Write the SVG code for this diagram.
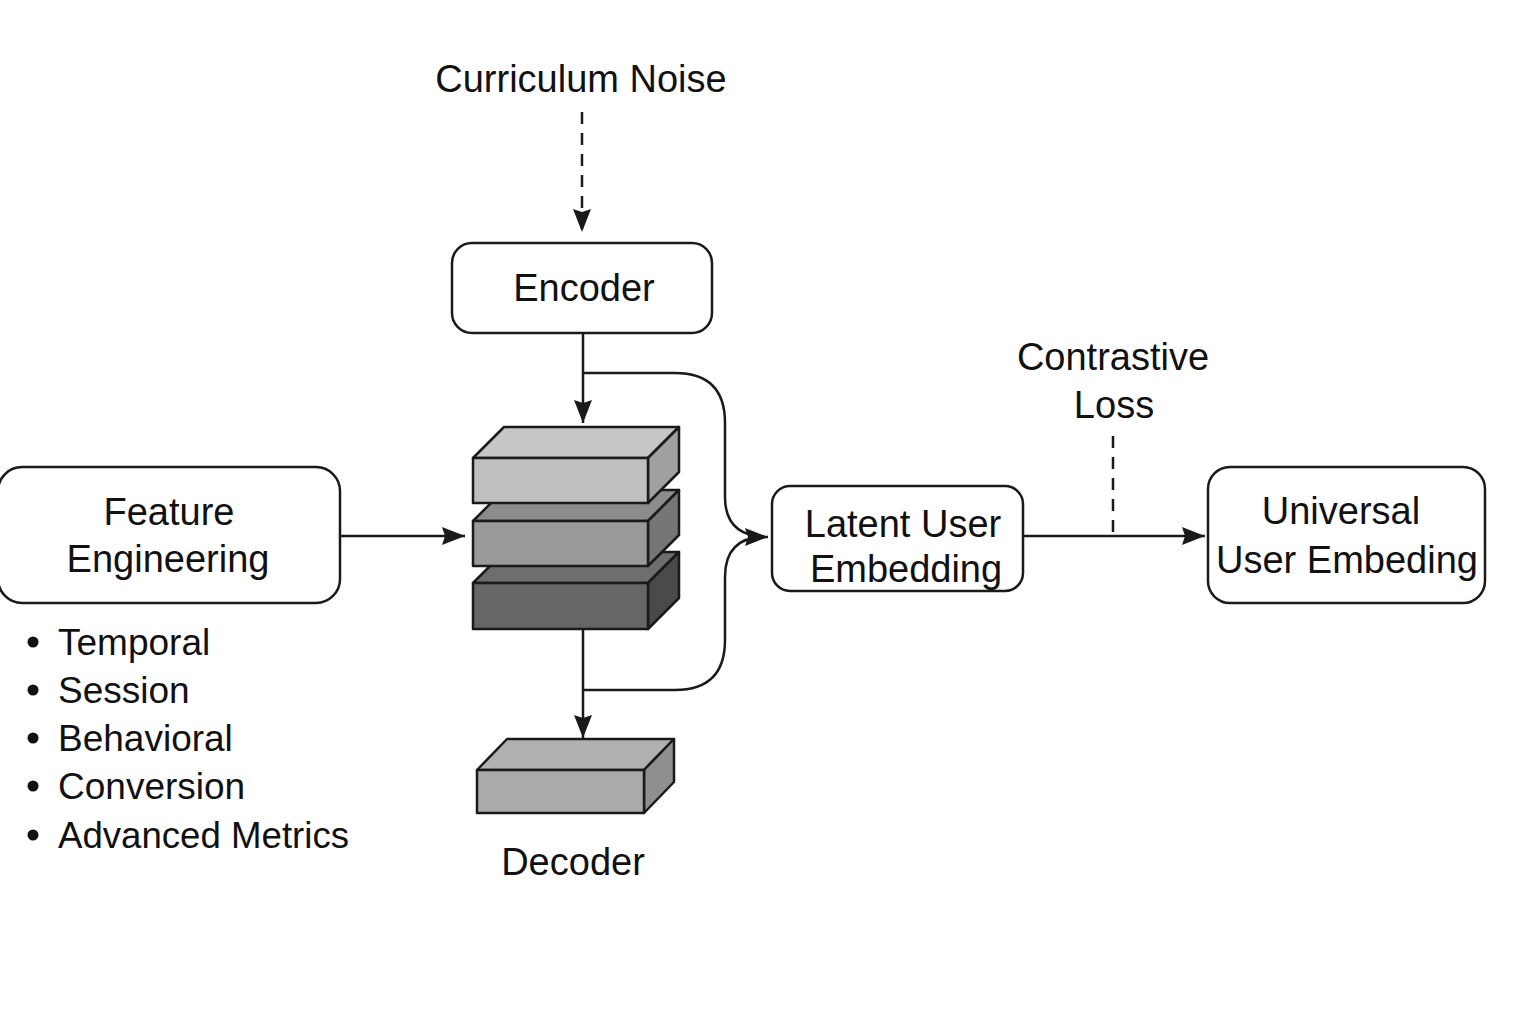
<svg xmlns="http://www.w3.org/2000/svg" width="1536" height="1024" viewBox="0 0 1536 1024">
<style>
  .box{fill:#fff;stroke:#1a1a1a;stroke-width:2.5}
  .t{font-family:"Liberation Sans",Arial,sans-serif;font-size:38px;fill:#111}
  .c{text-anchor:middle}
  .ln{fill:none;stroke:#1a1a1a;stroke-width:2.5}
  .dash{stroke-dasharray:12 9}
  .blk{stroke:#1a1a1a;stroke-width:2.5;stroke-linejoin:round}
</style>
<defs>
  <marker id="arr" markerUnits="userSpaceOnUse" markerWidth="26" markerHeight="20" refX="23" refY="9" orient="auto">
    <path d="M0,0 L23,9 L0,18 L3,9 z" fill="#1a1a1a"/>
  </marker>
</defs>
<rect width="1536" height="1024" fill="#fff"/>

<g id="connectors">
  <path class="ln dash" d="M582,112 V232" marker-end="url(#arr)"/>
  <path class="ln" d="M583,333 V423" marker-end="url(#arr)"/>
  <path class="ln" d="M340,536 H465" marker-end="url(#arr)"/>
  <path class="ln" d="M583,629 V738" marker-end="url(#arr)"/>
  <path class="ln" d="M583,373 H675 Q725,373 725,423 V497 Q725,537 768,537" marker-end="url(#arr)"/>
  <path class="ln" d="M583,690 H675 Q725,690 725,640 V577 Q725,537 765,537"/>
  <path class="ln" d="M1023,536 H1205" marker-end="url(#arr)"/>
  <path class="ln dash" d="M1113,436 V536"/>
</g>

<g id="curriculum-noise">
  <text class="t c" x="581" y="92">Curriculum Noise</text>
</g>

<g id="encoder">
  <rect class="box" x="452" y="243" width="260" height="90" rx="20"/>
  <text class="t c" x="584" y="301">Encoder</text>
</g>

<g id="feature-engineering">
  <rect class="box" x="-2" y="467" width="342" height="136" rx="24"/>
  <text class="t c" x="169" y="525">Feature</text>
  <text class="t c" x="168" y="572">Engineering</text>
</g>

<g id="feature-list">
  <circle cx="33" cy="642" r="5.5" fill="#111"/>
  <text class="t" x="58" y="655" style="font-size:37px">Temporal</text>
  <circle cx="33" cy="690" r="5.5" fill="#111"/>
  <text class="t" x="58" y="703" style="font-size:37px">Session</text>
  <circle cx="33" cy="738" r="5.5" fill="#111"/>
  <text class="t" x="58" y="751" style="font-size:37px">Behavioral</text>
  <circle cx="33" cy="786" r="5.5" fill="#111"/>
  <text class="t" x="58" y="799" style="font-size:37px">Conversion</text>
  <circle cx="33" cy="835" r="5.5" fill="#111"/>
  <text class="t" x="58" y="848" style="font-size:37px" textLength="291" lengthAdjust="spacingAndGlyphs">Advanced Metrics</text>
</g>

<g id="layer-stack">
  <g id="layer-3">
    <polygon class="blk" fill="#6e6e6e" points="473,583 504,552 679,552 648,583"/>
    <polygon class="blk" fill="#4a4a4a" points="648,583 679,552 679,598 648,629"/>
    <rect class="blk" fill="#666" x="473" y="583" width="175" height="46"/>
  </g>
  <g id="layer-2">
    <polygon class="blk" fill="#8c8c8c" points="473,521 504,490 679,490 648,521"/>
    <polygon class="blk" fill="#767676" points="648,521 679,490 679,535 648,566"/>
    <rect class="blk" fill="#999" x="473" y="521" width="175" height="45"/>
  </g>
  <g id="layer-1">
    <polygon class="blk" fill="#c6c6c6" points="473,458 504,427 679,427 648,458"/>
    <polygon class="blk" fill="#a0a0a0" points="648,458 679,427 679,472 648,503"/>
    <rect class="blk" fill="#bfbfbf" x="473" y="458" width="175" height="45"/>
  </g>
</g>

<g id="decoder">
  <polygon class="blk" fill="#b0b0b0" points="477,770 507,739 674,739 644,770"/>
  <polygon class="blk" fill="#8f8f8f" points="644,770 674,739 674,782 644,813"/>
  <rect class="blk" fill="#aaa" x="477" y="770" width="167" height="43"/>
  <text class="t c" x="573" y="875">Decoder</text>
</g>

<g id="latent-user-embedding">
  <rect class="box" x="772" y="486" width="251" height="105" rx="18"/>
  <text class="t c" x="903" y="537">Latent User</text>
  <text class="t c" x="906" y="582">Embedding</text>
</g>

<g id="contrastive-loss">
  <text class="t c" x="1113" y="370">Contrastive</text>
  <text class="t c" x="1114" y="418">Loss</text>
</g>

<g id="universal-user-embedding">
  <rect class="box" x="1208" y="467" width="277" height="136" rx="22"/>
  <text class="t c" x="1341" y="524">Universal</text>
  <text class="t c" x="1347" y="573">User Embeding</text>
</g>
</svg>
